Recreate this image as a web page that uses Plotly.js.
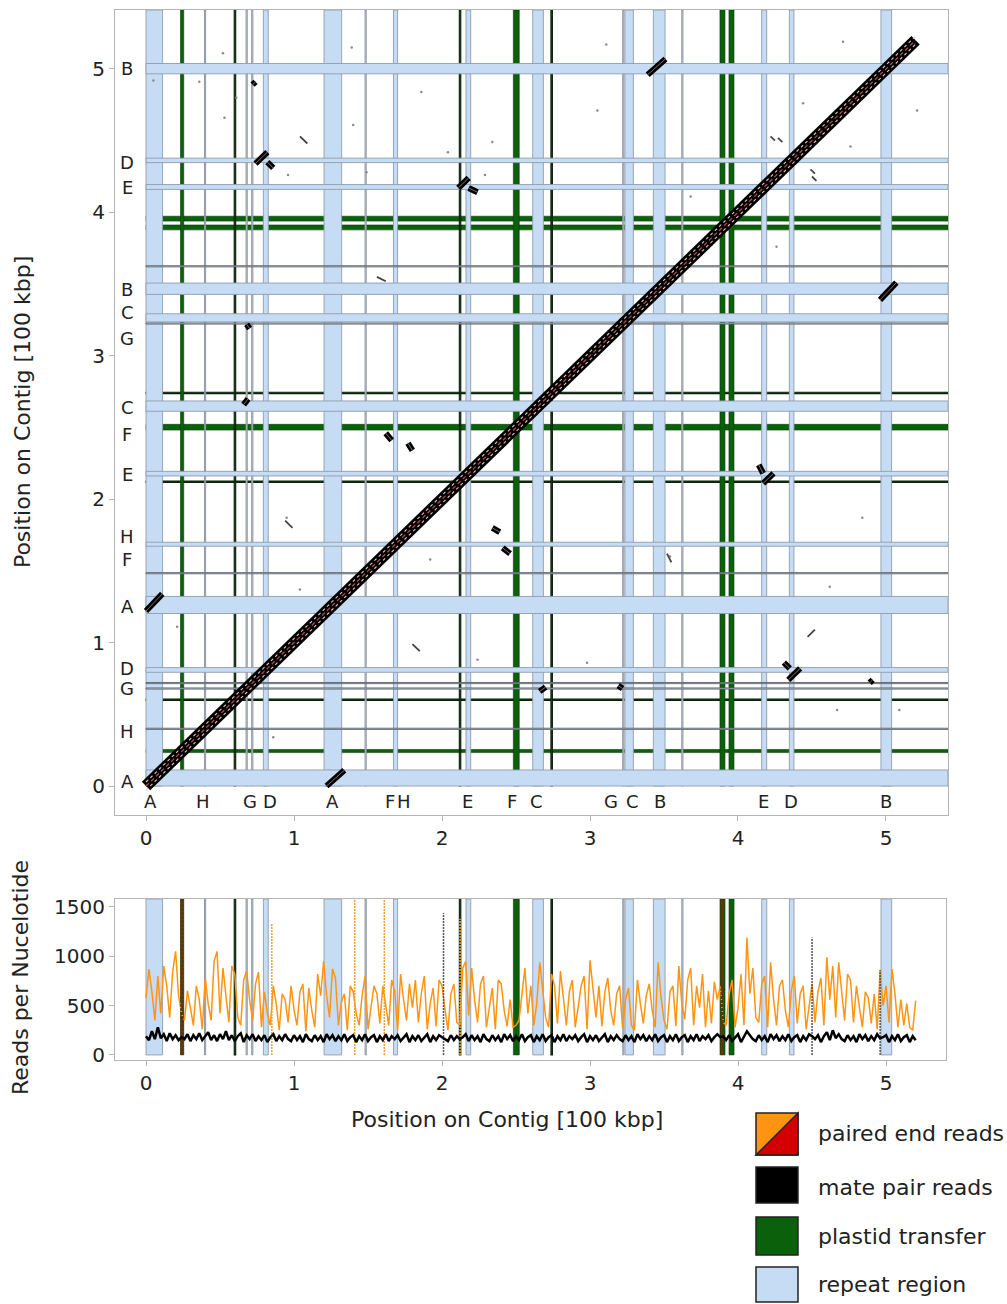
<!DOCTYPE html>
<html><head><meta charset="utf-8">
<script src="https://cdn.plot.ly/plotly-3.0.1.min.js"></script>
<style>body{margin:0;background:#fff}#chart{width:1007px;height:1304px}</style>
</head><body><div id="chart"></div>
<script>
// ---------- data (positions in 100 kbp) ----------
const contigStart = 0, contigEnd = 5.2;
const repeatStart = [0.000,0.395,0.676,0.714,0.793,1.203,1.480,1.672,2.162,2.613,3.221,3.236,3.428,3.620,4.160,4.347,4.966];
const repeatEnd   = [0.112,0.403,0.684,0.722,0.826,1.322,1.488,1.700,2.194,2.685,3.229,3.293,3.507,3.628,4.194,4.378,5.038];
const plastidStart = [0.233,0.596,2.117,2.482,2.736,3.878,3.939];
const plastidEnd   = [0.255,0.606,2.127,2.522,2.746,3.912,3.973];

const repeatLabelText = ['A','H','G','D','A','F','H','E','F','C','G','C','B','E','D','B'];
const repeatLabelX = [0.03,0.385,0.70,0.84,1.26,1.65,1.74,2.17,2.47,2.64,3.14,3.29,3.47,4.17,4.36,5.00];
const repeatLabelY = [0.03,0.38,0.68,0.82,1.25,1.58,1.74,2.17,2.45,2.64,3.12,3.30,3.46,4.17,4.35,5.00];

// strong off-diagonal matches (segments)
const matchX0 = [0.00,1.22,3.39,4.96,0.74,0.82,4.34,4.35,2.11,2.18,4.17,4.17,2.34,2.41,1.80,1.66,0.72,4.89,2.66,0.66,3.19,0.70];
const matchY0 = [1.22,0.00,4.96,3.39,4.34,4.35,0.74,0.82,4.17,4.17,2.11,2.18,1.80,1.66,2.34,2.41,4.89,0.72,0.66,2.66,0.70,3.19];
const matchX1 = [0.11,1.34,3.51,5.07,0.82,0.86,4.42,4.31,2.18,2.24,4.24,4.14,2.39,2.46,1.77,1.62,0.74,4.91,2.70,0.69,3.22,0.68];
const matchY1 = [1.34,0.11,5.07,3.51,4.42,4.31,0.82,0.86,4.24,4.14,2.18,2.24,1.77,1.62,2.39,2.46,4.91,0.74,0.69,2.70,0.68,3.22];
// weak matches (segments)
const weakX0 = [4.22,4.27,4.53,4.52,1.80,0.99,1.04,4.47,3.52,1.62];
const weakY0 = [4.53,4.52,4.22,4.27,0.99,1.80,4.53,1.04,1.62,3.52];
const weakX1 = [4.25,4.30,4.50,4.49,1.85,0.94,1.09,4.52,3.55,1.56];
const weakY1 = [4.50,4.49,4.25,4.30,0.94,1.85,4.48,1.09,1.56,3.55];
// scattered single hits
const hitX = [0.52,0.36,0.61,0.53,1.39,1.40,1.49,0.96,0.05,1.86,2.34,2.04,3.11,3.05,2.29,4.71,5.21,4.44,3.68,4.26,4.76,1.92,2.98,2.24,3.54,4.84,4.67,5.09,4.62,0.95,0.21,1.04,0.86];
const hitY = [5.11,4.91,4.80,4.66,5.15,4.61,4.28,4.26,4.92,4.84,4.49,4.42,5.17,4.71,4.26,5.19,4.71,4.76,4.11,3.76,4.46,1.58,0.86,0.88,1.60,1.87,0.53,0.53,1.39,1.87,1.11,1.37,0.34];

// coverage (reads per nucleotide)
const coveragePos = [
0.00,0.02,0.04,0.06,0.08, 0.10,0.12,0.14,0.16,0.18, 0.20,0.22,0.24,0.26,0.28, 0.30,0.32,0.34,0.36,0.38,
0.40,0.42,0.44,0.46,0.48, 0.50,0.52,0.54,0.56,0.58, 0.60,0.62,0.64,0.66,0.68, 0.70,0.72,0.74,0.76,0.78,
0.80,0.82,0.84,0.86,0.88, 0.90,0.92,0.94,0.96,0.98, 1.00,1.02,1.04,1.06,1.08, 1.10,1.12,1.14,1.16,1.18,
1.20,1.22,1.24,1.26,1.28, 1.30,1.32,1.34,1.36,1.38, 1.40,1.42,1.44,1.46,1.48, 1.50,1.52,1.54,1.56,1.58,
1.60,1.62,1.64,1.66,1.68, 1.70,1.72,1.74,1.76,1.78, 1.80,1.82,1.84,1.86,1.88, 1.90,1.92,1.94,1.96,1.98,
2.00,2.02,2.04,2.06,2.08, 2.10,2.12,2.14,2.16,2.18, 2.20,2.22,2.24,2.26,2.28, 2.30,2.32,2.34,2.36,2.38,
2.40,2.42,2.44,2.46,2.48, 2.50,2.52,2.54,2.56,2.58, 2.60,2.62,2.64,2.66,2.68, 2.70,2.72,2.74,2.76,2.78,
2.80,2.82,2.84,2.86,2.88, 2.90,2.92,2.94,2.96,2.98, 3.00,3.02,3.04,3.06,3.08, 3.10,3.12,3.14,3.16,3.18,
3.20,3.22,3.24,3.26,3.28, 3.30,3.32,3.34,3.36,3.38, 3.40,3.42,3.44,3.46,3.48, 3.50,3.52,3.54,3.56,3.58,
3.60,3.62,3.64,3.66,3.68, 3.70,3.72,3.74,3.76,3.78, 3.80,3.82,3.84,3.86,3.88, 3.90,3.92,3.94,3.96,3.98,
4.00,4.02,4.04,4.06,4.08, 4.10,4.12,4.14,4.16,4.18, 4.20,4.22,4.24,4.26,4.28, 4.30,4.32,4.34,4.36,4.38,
4.40,4.42,4.44,4.46,4.48, 4.50,4.52,4.54,4.56,4.58, 4.60,4.62,4.64,4.66,4.68, 4.70,4.72,4.74,4.76,4.78,
4.80,4.82,4.84,4.86,4.88, 4.90,4.92,4.94,4.96,4.98, 5.00,5.02,5.04,5.06,5.08, 5.10,5.12,5.14,5.16,5.18,
5.20];
const pairedEndReads = [
580,870,640,350,800, 420,900,700,380,840, 1050,600,420,350,650, 480,300,700,560,260,
780,520,350,950,1050, 420,880,600,330,900, 820,380,300,760,850, 560,350,720,840,280,
640,420,300,700,520, 250,620,560,330,700, 460,300,640,720,240, 680,450,280,820,600,
950,600,380,870,780, 300,540,620,250,700, 640,420,300,600,800, 260,500,700,620,320,
700,480,300,760,650, 250,820,560,350,720, 480,760,330,620,800, 260,520,680,290,760,
700,460,250,620,720, 330,300,880,950,400, 880,560,330,720,800, 280,500,680,260,760,
720,450,290,560,280, 300,350,600,880,420, 700,300,520,940,620, 380,280,820,700,320,
850,550,300,640,760, 280,480,700,800,260, 960,640,380,700,290, 640,780,450,300,620,
700,270,560,680,300, 250,760,520,320,600, 720,450,280,940,580, 350,260,640,700,290,
900,520,360,760,880, 300,700,480,820,280, 650,320,740,560,700, 330,300,620,760,280,
480,820,300,1190,620, 880,380,330,720,800, 280,940,560,300,700, 760,450,280,650,800,
320,620,700,260,500, 720,330,640,780,300, 990,560,900,380,940, 620,350,820,760,330,
700,480,280,640,580, 320,620,260,860,500, 700,330,870,620,280, 560,300,520,280,250,
550];
const matePairReads = [
190,150,240,160,280, 170,210,140,220,160, 200,150,180,160,210, 140,200,160,220,150,
190,230,150,200,140, 210,160,240,150,200, 140,190,220,130,200, 160,210,140,190,150,
200,130,180,210,140, 190,150,210,160,140, 200,150,190,130,210, 160,140,200,150,190,
130,210,160,200,140, 190,150,210,140,180, 200,130,190,150,210, 140,180,200,130,190,
150,210,140,190,160, 200,140,180,210,130, 190,150,200,140,180, 210,130,190,150,200,
180,160,140,200,150, 190,160,180,210,140, 200,150,190,130,210, 160,140,200,150,190,
130,210,160,200,140, 190,150,210,140,180, 200,130,190,150,210, 140,180,200,130,190,
150,210,140,190,160, 200,140,180,210,130, 190,150,200,140,180, 210,130,190,150,200,
160,140,200,150,190, 130,210,160,200,140, 190,150,210,140,180, 200,130,190,150,210,
140,180,200,130,190, 150,210,140,190,160, 200,140,180,210,180, 190,150,200,140,180,
210,130,190,240,200, 160,140,200,150,190, 130,210,160,200,140, 190,150,210,140,180,
200,130,190,150,210, 190,160,200,130,190, 230,150,250,170,210, 160,140,200,150,190,
130,210,160,200,140, 190,150,210,170,180, 200,130,190,150,210, 140,180,200,130,190,
150];
// isolated coverage spikes (collapsed repeats / plastid copies)
const spikePos = [0.243,0.850,1.410,1.610,2.010,2.122,3.893,4.500,4.960];
const spikeTop = [1600,1330,1600,1600,1440,1380,1600,1190,860];
const spikeKind = ['plastid','paired','paired','paired','mate','paired','plastid','mate','mate'];

const legendLabels = ['paired end reads','mate pair reads','plastid transfer','repeat region'];

// ---------- style ----------
const FONT = 'DejaVu Sans, sans-serif';
const BLUE = '#c6dcf4', BLUE_EDGE = '#8f9cab';
const GREEN = '#0b600b', GREEN_EDGE = '#0a3d0a';
const ORANGE = '#ff9412', RED = '#d40000';
const X_RANGE = [-0.2095, 5.419], Y_RANGE = [-0.202, 5.411];
const X2_RANGE = [-0.2095, 5.405], Y2_RANGE = [-51, 1581];

function isNarrow(s,e){ return (e-s) < 0.015; }
function plastidEdge(i){ return isNarrow(plastidStart[i],plastidEnd[i]) ? '#0d1f0d' : GREEN_EDGE; }
function plastidEdgeW(i){ return isNarrow(plastidStart[i],plastidEnd[i]) ? 1.1 : 0.6; }
function repeatEdgeV(i){ return isNarrow(repeatStart[i],repeatEnd[i]) ? '#8a8f96' : BLUE_EDGE; }
function repeatEdgeH(i){ return isNarrow(repeatStart[i],repeatEnd[i]) ? '#5e6268' : BLUE_EDGE; }

const shapes = [];
// top panel: plastid lines (under repeats)
plastidStart.forEach((s,i)=>shapes.push({type:'rect',xref:'x',yref:'y',x0:0,x1:X_RANGE[1],y0:s,y1:plastidEnd[i],fillcolor:GREEN,line:{color:plastidEdge(i),width:plastidEdgeW(i)},layer:'below'}));
plastidStart.forEach((s,i)=>shapes.push({type:'rect',xref:'x',yref:'y',x0:s,x1:plastidEnd[i],y0:0,y1:Y_RANGE[1],fillcolor:GREEN,line:{color:plastidEdge(i),width:plastidEdgeW(i)},layer:'below'}));
// repeats
repeatStart.forEach((s,i)=>shapes.push({type:'rect',xref:'x',yref:'y',x0:s,x1:repeatEnd[i],y0:0,y1:Y_RANGE[1],fillcolor:BLUE,line:{color:repeatEdgeV(i),width:0.9},layer:'below'}));
repeatStart.forEach((s,i)=>shapes.push({type:'rect',xref:'x',yref:'y',x0:0,x1:X_RANGE[1],y0:s,y1:repeatEnd[i],fillcolor:BLUE,line:{color:repeatEdgeH(i),width:0.9},layer:'below'}));
// bottom panel
repeatStart.forEach((s,i)=>shapes.push({type:'rect',xref:'x2',yref:'y2',x0:s,x1:repeatEnd[i],y0:0,y1:Y2_RANGE[1],fillcolor:BLUE,line:{color:repeatEdgeV(i),width:0.9},layer:'below'}));
plastidStart.forEach((s,i)=>shapes.push({type:'rect',xref:'x2',yref:'y2',x0:s,x1:plastidEnd[i],y0:0,y1:Y2_RANGE[1],fillcolor:GREEN,line:{color:plastidEdge(i),width:plastidEdgeW(i)},layer:'below'}));

// legend boxes (paper coords)
const lx0 = 0.7695, lx1 = 0.8199;
const legendBoxY = [[0.1151,0.1476],[0.0781,0.1059],[0.0379,0.0672],[0.0015,0.0286]];
const legendTextY = [0.1321,0.0904,0.0518,0.0147];
const legendFill = [ORANGE,'#000000',GREEN,BLUE];
legendBoxY.forEach((b,i)=>{
  shapes.push({type:'rect',xref:'paper',yref:'paper',x0:lx0,x1:lx1,y0:b[0],y1:b[1],fillcolor:legendFill[i],line:{color:'#222',width:1.5},layer:'above'});
});
const b0 = legendBoxY[0];
shapes.push({type:'path',xref:'paper',yref:'paper',path:`M ${lx0} ${b0[0]} L ${lx1} ${b0[0]} L ${lx1} ${b0[1]} Z`,fillcolor:RED,line:{color:'#222',width:1.5},layer:'above'});

// ---------- traces ----------
function segs(x0,y0,x1,y1){const X=[],Y=[];x0.forEach((v,i)=>{X.push(v,x1[i],null);Y.push(y0[i],y1[i],null);});return {X,Y};}
const strong = segs(matchX0,matchY0,matchX1,matchY1);
const weak = segs(weakX0,weakY0,weakX1,weakY1);
const selfX = [contigStart, contigEnd], selfY = [contigStart, contigEnd];
const off = 0.028;
function spikes(kind){const X=[],Y=[];spikePos.forEach((p,i)=>{if(spikeKind[i]===kind){X.push(p,p,null);Y.push(0,spikeTop[i],null);}});return {X,Y};}
const spP = spikes('paired'), spM = spikes('mate'), spC = spikes('plastid');

const traces = [
  {x:hitX,y:hitY,mode:'markers',marker:{size:2.5,color:'#8a8a8a'},xaxis:'x',yaxis:'y',hoverinfo:'skip'},
  {x:weak.X,y:weak.Y,mode:'lines',line:{color:'#444',width:1.8},xaxis:'x',yaxis:'y',connectgaps:false,hoverinfo:'skip'},
  {x:strong.X,y:strong.Y,mode:'lines',line:{color:'#000',width:6},xaxis:'x',yaxis:'y',connectgaps:false,hoverinfo:'skip'},
  {x:strong.X,y:strong.Y,mode:'lines',line:{color:'#8a6a6a',width:1},xaxis:'x',yaxis:'y',connectgaps:false,hoverinfo:'skip'},
  {x:selfX,y:selfY,mode:'lines',line:{color:'#000',width:12},xaxis:'x',yaxis:'y',hoverinfo:'skip'},
  {x:selfX,y:selfY.map(v=>v+off),mode:'lines',line:{color:'#e6c4c4',width:1.1,dash:'3px,3px'},xaxis:'x',yaxis:'y',hoverinfo:'skip'},
  {x:selfX,y:selfY.map(v=>v-off),mode:'lines',line:{color:'#e6c4c4',width:1.1,dash:'3px,3px'},xaxis:'x',yaxis:'y',hoverinfo:'skip'},
  {x:selfX,y:selfY,mode:'lines',line:{color:'#b04848',width:1.3,dash:'4px,3px'},xaxis:'x',yaxis:'y',hoverinfo:'skip'},
  {x:coveragePos,y:pairedEndReads,mode:'lines',line:{color:ORANGE,width:1.5},xaxis:'x2',yaxis:'y2',hoverinfo:'skip'},
  {x:spP.X,y:spP.Y,mode:'lines',line:{color:'#f0a030',width:1.5,dash:'2px,1px'},xaxis:'x2',yaxis:'y2',hoverinfo:'skip'},
  {x:spM.X,y:spM.Y,mode:'lines',line:{color:'#555',width:1.5,dash:'2px,1px'},xaxis:'x2',yaxis:'y2',hoverinfo:'skip'},
  {x:spC.X,y:spC.Y,mode:'lines',line:{color:'#5a3a0c',width:3.5,dash:'3px,1px'},xaxis:'x2',yaxis:'y2',hoverinfo:'skip'},
  {x:coveragePos,y:matePairReads,mode:'lines',line:{color:'#000',width:2.5},xaxis:'x2',yaxis:'y2',hoverinfo:'skip'}
];

// ---------- annotations ----------
const ann = [];
const lblFont = {family:FONT,size:18,color:'#222'};
repeatLabelText.forEach((t,i)=>{
  ann.push({text:t,x:repeatLabelX[i],y:-0.105,xref:'x',yref:'y',xanchor:'center',yanchor:'middle',showarrow:false,font:lblFont});
  ann.push({text:t,x:-0.128,y:repeatLabelY[i],xref:'x',yref:'y',xanchor:'center',yanchor:'middle',showarrow:false,font:lblFont});
});
const titleFont = {family:FONT,size:22,color:'#222'};
ann.push({text:'Position on Contig [100 kbp]',xref:'paper',yref:'paper',x:-0.1116,y:0.6893,xanchor:'center',yanchor:'middle',textangle:-90,showarrow:false,font:titleFont});
ann.push({text:'Reads per Nucelotide',xref:'paper',yref:'paper',x:-0.114,y:0.2519,xanchor:'center',yanchor:'middle',textangle:-90,showarrow:false,font:titleFont});
ann.push({text:'Position on Contig [100 kbp]',xref:'paper',yref:'paper',x:0.4706,y:0.1422,xanchor:'center',yanchor:'middle',showarrow:false,font:titleFont});
legendLabels.forEach((t,i)=>ann.push({text:t,xref:'paper',yref:'paper',x:0.8415,y:legendTextY[i],xanchor:'left',yanchor:'middle',showarrow:false,font:titleFont}));

const axisCommon = {showgrid:false,zeroline:false,showline:true,mirror:true,linecolor:'#b4b4b4',linewidth:1,
  ticks:'outside',ticklen:5,tickcolor:'#b4b4b4',tickfont:{family:FONT,size:20,color:'#222'}};

const layout = {
  width:1007,height:1304,margin:{l:115,r:59,t:10,b:0},
  paper_bgcolor:'#fff',plot_bgcolor:'#fff',showlegend:false,
  xaxis:Object.assign({},axisCommon,{domain:[0,1],range:X_RANGE,tickvals:[0,1,2,3,4,5],anchor:'y'}),
  yaxis:Object.assign({},axisCommon,{domain:[0.3779,1],range:Y_RANGE,tickvals:[0,1,2,3,4,5],anchor:'x'}),
  xaxis2:Object.assign({},axisCommon,{domain:[0,0.9976],range:X2_RANGE,tickvals:[0,1,2,3,4,5],anchor:'y2'}),
  yaxis2:Object.assign({},axisCommon,{domain:[0.1886,0.3130],range:Y2_RANGE,tickvals:[0,500,1000,1500],anchor:'x2'}),
  shapes:shapes,annotations:ann,font:{family:FONT}
};
Plotly.newPlot('chart',traces,layout,{staticPlot:true,displayModeBar:false});
</script></body></html>
